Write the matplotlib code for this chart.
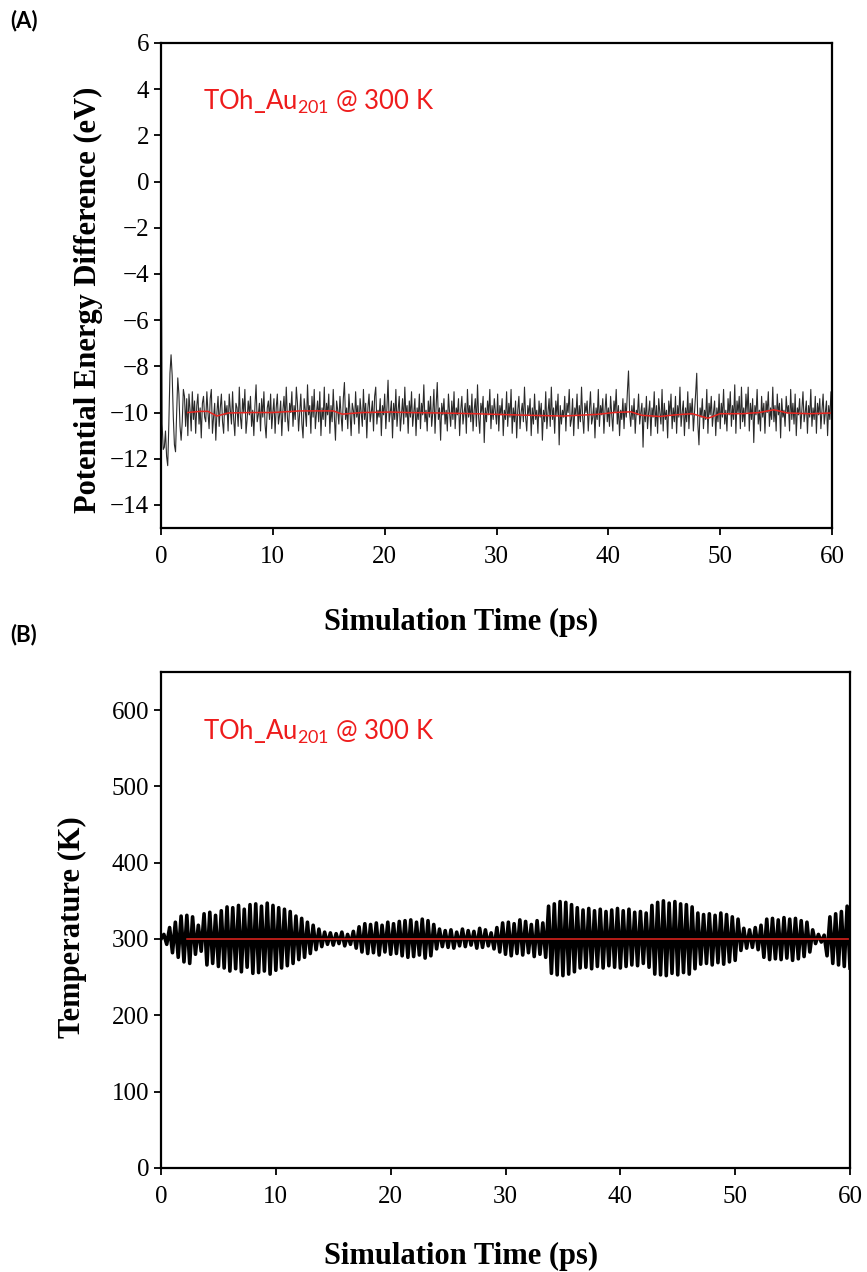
import numpy as np
import matplotlib
matplotlib.use("Agg")
import matplotlib.pyplot as plt

# ---------------------------------------------------------------
# Data
# ---------------------------------------------------------------

# (A) potential energy difference (eV), one value every 0.1 ps from 0 to 60 ps
energy_step = 0.1
energy = [
    1.0, -10.5, -11.6, -11.5, -10.8, -11.9, -12.3, -10.5, -8.3, -7.5, -8.4, -10.2, -11.4, -11.7, -10.0, -8.5, -9.2, -10.6, -11.2, -10.4,
    -9.0, -9.3, -10.6, -9.4, -11.0, -9.2, -9.9, -10.8, -9.1, -10.3, -9.5, -10.9, -9.7, -9.2, -10.5, -9.8, -11.1, -9.6, -9.3, -10.2,
    -10.4, -9.1, -10.0, -10.7, -9.4, -9.0, -10.9, -10.2, -9.6, -11.2, -10.0, -9.3, -10.6, -9.8, -9.2, -10.4, -10.9, -9.5, -10.1, -9.7,
    -10.8, -9.2, -9.9, -10.5, -9.1, -10.3, -11.0, -9.6, -9.8, -10.6, -8.9, -10.2, -10.7, -9.4, -10.0, -9.0, -10.9, -10.3, -9.5, -10.1,
    -9.3, -10.6, -9.9, -11.0, -9.7, -8.8, -10.4, -10.1, -9.6, -10.8, -9.4, -10.2, -9.1, -10.5, -11.1, -9.8, -9.5, -10.3, -9.2, -10.7,
    -10.0, -9.4, -10.9, -9.8, -9.2, -10.5, -10.1, -9.5, -11.0, -9.9, -9.3, -10.4, -8.9, -10.2, -10.8, -9.6, -10.0, -9.1, -10.6, -9.7,
    -10.3, -8.9, -9.6, -10.8, -10.0, -9.2, -10.5, -11.1, -9.4, -9.9, -10.6, -8.8, -10.1, -9.7, -10.9, -9.3, -10.2, -9.0, -10.7, -10.0,
    -9.5, -10.4, -9.1, -11.0, -9.8, -10.3, -8.9, -10.6, -9.6, -10.1, -9.2, -10.9, -9.7, -10.4, -9.0, -10.2, -11.2, -9.5, -9.9, -10.5,
    -9.3, -10.1, -10.8, -9.4, -8.7, -10.3, -9.8, -10.7, -9.2, -10.0, -11.0, -9.6, -9.9, -10.5, -9.1, -10.2, -9.7, -10.9, -9.4, -10.0,
    -10.6, -9.0, -10.3, -9.6, -11.1, -9.8, -9.2, -10.4, -10.0, -9.5, -10.8, -9.3, -8.9, -10.5, -9.9, -10.2, -9.4, -11.0, -9.7, -10.1,
    -9.2, -10.7, -9.8, -8.6, -10.4, -10.0, -9.5, -11.1, -9.6, -10.3, -9.0, -10.6, -9.9, -9.3, -10.8, -10.1, -9.4, -10.5, -8.9, -10.2,
    -9.7, -10.9, -9.5, -10.2, -9.1, -10.6, -10.0, -9.4, -11.0, -9.8, -10.3, -9.2, -10.7, -9.6, -10.1, -8.8, -10.4, -9.9, -10.8, -9.5,
    -10.2, -9.3, -10.6, -10.0, -9.0, -10.9, -9.7, -8.7, -10.3, -9.8, -11.2, -9.6, -10.1, -9.4, -10.5, -9.9, -10.8, -9.2, -10.0, -10.6,
    -9.5, -10.3, -9.1, -10.7, -9.8, -10.1, -9.4, -11.0, -9.9, -9.3, -10.5, -10.0, -9.6, -10.9, -9.0, -10.2, -9.7, -10.4, -9.2, -10.8,
    -9.9, -9.4, -10.6, -8.8, -10.2, -10.9, -9.6, -10.0, -9.3, -11.3, -9.8, -10.4, -9.5, -10.1, -9.0, -10.7, -9.7, -10.3, -9.4, -10.0,
    -10.5, -9.2, -10.8, -9.7, -10.1, -9.4, -11.0, -9.9, -10.3, -9.1, -10.6, -9.6, -10.2, -9.0, -10.9, -9.8, -10.4, -9.5, -11.1, -9.9,
    -9.3, -10.7, -10.0, -9.6, -10.4, -8.9, -10.2, -10.8, -9.7, -10.1, -9.4, -11.0, -9.8, -10.5, -9.2, -10.3, -9.9, -10.9, -9.5, -10.2,
    -9.6, -11.2, -9.9, -10.4, -9.1, -10.7, -10.0, -9.4, -10.6, -8.9, -10.3, -9.8, -10.9, -9.5, -10.1, -9.2, -11.4, -9.7, -10.5, -9.9,
    -10.2, -9.3, -10.8, -9.6, -10.0, -9.0, -10.6, -10.3, -9.4, -11.0, -9.8, -10.1, -9.2, -10.7, -9.7, -10.4, -8.9, -10.2, -10.9, -9.6,
    -10.0, -9.5, -10.8, -9.9, -9.1, -10.5, -10.2, -9.6, -11.1, -9.8, -10.3, -9.0, -10.6, -9.7, -10.1, -9.4, -10.9, -9.9, -9.2, -10.4,
    -9.8, -10.6, -9.3, -10.1, -10.8, -9.5, -10.0, -9.0, -10.5, -9.7, -11.0, -9.9, -10.3, -9.4, -10.7, -9.6, -10.2, -9.1, -8.2, -10.0,
    -10.6, -9.7, -10.3, -9.4, -10.9, -9.9, -10.1, -9.2, -10.5, -10.0, -9.6, -11.5, -9.8, -10.4, -9.3, -10.7, -10.0, -9.5, -11.0, -9.8,
    -10.2, -9.1, -10.6, -9.7, -10.9, -9.4, -10.0, -10.5, -9.0, -10.8, -9.6, -10.3, -9.9, -11.1, -9.5, -10.1, -9.2, -10.7, -9.8, -10.4,
    -9.3, -10.9, -9.7, -10.2, -8.9, -10.6, -10.0, -9.5, -11.0, -9.8, -10.4, -9.1, -10.7, -9.6, -10.1, -9.4, -10.8, -10.0, -9.2, -8.3,
    -10.5, -11.4, -9.8, -10.2, -9.4, -10.7, -9.9, -10.3, -9.0, -10.9, -9.6, -10.1, -9.3, -10.6, -10.0, -9.5, -11.0, -9.8, -10.4, -9.2,
    -10.7, -9.6, -10.2, -9.0, -10.5, -9.9, -10.8, -9.4, -10.1, -9.1, -10.6, -9.7, -10.3, -8.8, -10.9, -9.5, -10.0, -9.3, -10.7, -8.9,
    -10.4, -9.8, -10.6, -9.2, -10.0, -8.9, -10.8, -9.6, -10.3, -9.4, -11.3, -9.7, -10.1, -9.0, -10.5, -9.9, -10.8, -9.3, -10.2, -9.6,
    -10.9, -9.5, -10.0, -9.1, -10.6, -9.8, -10.3, -8.9, -10.4, -9.7, -10.8, -9.2, -10.1, -9.6, -11.1, -9.4, -10.2, -9.9, -10.6, -9.3,
    -10.0, -9.7, -10.8, -9.0, -10.3, -9.6, -10.5, -9.2, -11.0, -9.8, -10.1, -9.4, -10.7, -9.9, -9.1, -10.4, -10.0, -9.5, -10.9, -9.7,
    -10.2, -9.0, -10.6, -9.8, -10.3, -9.3, -10.9, -9.6, -10.1, -9.4, -10.7, -9.9, -9.2, -10.5, -10.0, -9.5, -11.0, -9.7, -10.3, -9.1,
    -10.2,
]

# (A) running average (red)
avg_time = [2.4, 3.5, 4.2, 5.0, 6.0, 8.0, 10.0, 12.4, 14.0, 15.4, 16.2, 18.0, 20.5, 22.0, 25.0, 28.0, 30.0,
            33.0, 36.0, 39.0, 40.5, 42.0, 43.0, 44.6, 46.0, 47.5, 48.9, 50.0, 52.0, 53.5, 54.8, 56.0, 58.0, 60.0]
avg_energy = [-10.0, -9.95, -9.95, -10.15, -10.02, -10.0, -10.0, -9.93, -9.93, -9.93, -10.07, -10.0, -9.98, -10.0,
              -10.02, -10.05, -10.08, -10.12, -10.15, -10.08, -10.0, -9.97, -10.12, -10.17, -10.1, -10.05, -10.25,
              -10.05, -10.05, -10.0, -9.88, -10.02, -10.05, -10.02]

# (B) temperature (K), one value every 0.25 ps from 0 to 60 ps
temp_step = 0.25
temperature = [
    300, 306, 293, 315, 282, 322, 276, 330, 270, 331, 268, 329, 280, 318, 284, 333, 266, 335, 268, 331,
    264, 337, 262, 342, 258, 341, 261, 344, 257, 339, 263, 345, 255, 346, 256, 343, 258, 347, 254, 344,
    259, 341, 262, 339, 265, 336, 268, 330, 273, 327, 276, 322, 281, 318, 286, 313, 290, 309, 293, 308,
    292, 307, 294, 309, 291, 306, 293, 310, 288, 316, 283, 320, 281, 319, 282, 321, 279, 318, 283, 322,
    280, 320, 281, 323, 278, 324, 276, 325, 277, 322, 279, 326, 275, 324, 278, 319, 287, 313, 290, 311,
    289, 312, 288, 309, 291, 313, 290, 311, 292, 310, 288, 314, 289, 312, 291, 308, 287, 315, 283, 321,
    280, 322, 278, 320, 281, 325, 279, 323, 282, 319, 277, 324, 280, 321, 276, 343, 255, 346, 253, 349,
    252, 348, 254, 345, 257, 341, 262, 338, 263, 340, 261, 337, 264, 339, 262, 336, 265, 338, 263, 340,
    262, 337, 264, 339, 266, 335, 265, 336, 268, 334, 263, 344, 254, 348, 253, 350, 252, 347, 255, 349,
    253, 346, 256, 345, 254, 342, 261, 334, 267, 332, 268, 333, 266, 331, 269, 334, 267, 332, 270, 329,
    272, 326, 285, 314, 288, 312, 289, 315, 286, 318, 276, 326, 273, 327, 274, 325, 273, 328, 275, 326,
    272, 327, 274, 324, 277, 322, 283, 312, 294, 306, 296, 305, 278, 329, 268, 333, 266, 336, 264, 343,
    262,
]

# (B) target temperature (red)
target_time = [2.3, 60.0]
target_temp = [300, 300]

label_text = "TOh_Au$_{201}$ @ 300 K"

# ---------------------------------------------------------------
# Plotting
# ---------------------------------------------------------------
plt.rcParams["mathtext.default"] = "regular"

tick_family = "Liberation Serif"
tick_size = 18
xlabel_font = {"family": "Liberation Serif", "size": 22, "weight": "bold"}
ylabel_font = {"family": "Liberation Serif", "size": 22, "weight": "bold"}


def style_axes(ax, ylim, yticks, yticklabels, xlab_pos, ylab_pos):
    """common look for both panels"""
    ax.set_xlim(0, 60)
    ax.set_ylim(*ylim)
    ax.set_xticks(range(0, 61, 10))
    ax.set_yticks(yticks)
    ax.set_yticklabels(yticklabels)
    ax.tick_params(direction="out", length=5, width=1.3)
    ax.tick_params(axis="x", pad=8)
    for lab in ax.get_xticklabels() + ax.get_yticklabels():
        lab.set_fontfamily(tick_family)
        lab.set_fontsize(tick_size)
    for sp in ax.spines.values():
        sp.set_linewidth(1.6)
    ax.set_xlabel("Simulation Time (ps)", fontdict=xlabel_font)
    ax.xaxis.set_label_coords(*xlab_pos)
    ax.yaxis.set_label_coords(*ylab_pos)


fig = plt.figure(figsize=(8.67, 12.72), dpi=100)

# Panel A
ax1 = fig.add_axes([0.1857, 0.5849, 0.774, 0.3813])
t_energy = np.arange(len(energy)) * energy_step
ax1.plot(t_energy, energy, color="#2a2a2a", lw=0.8)
ax1.plot(avg_time, avg_energy, color="#e8251f", lw=1.1)
e_ticks = list(range(-14, 7, 2))
ax1.set_ylabel("Potential Energy Difference (eV)", fontdict=ylabel_font)
style_axes(ax1, (-15, 6), e_ticks,
           [f"\u2212{abs(v)}" if v < 0 else str(v) for v in e_ticks],
           (0.447, -0.165), (-0.087, 0.47))
ax1.text(0.063, 0.878, label_text, transform=ax1.transAxes, color="#ee1c1c",
         fontsize=18.5, family="Lato", va="center")

# Panel B
ax2 = fig.add_axes([0.1857, 0.0818, 0.7947, 0.390])
t_temp = np.arange(len(temperature)) * temp_step
ax2.plot(t_temp, temperature, color="black", lw=2.6)
ax2.plot(target_time, target_temp, color="#e8251f", lw=1.1)
t_ticks = list(range(0, 601, 100))
ax2.set_ylabel("Temperature (K)", fontdict=ylabel_font)
style_axes(ax2, (0, 650), t_ticks, [str(v) for v in t_ticks],
           (0.435, -0.15), (-0.107, 0.485))
ax2.text(0.061, 0.878, label_text, transform=ax2.transAxes, color="#ee1c1c",
         fontsize=18.5, family="Lato", va="center")

# Panel letters
fig.text(0.012, 0.984, "(A)", fontsize=16, weight="bold", family="Lato", va="center")
fig.text(0.012, 0.501, "(B)", fontsize=16, weight="bold", family="Lato", va="center")

plt.savefig("out.png", dpi=100)
